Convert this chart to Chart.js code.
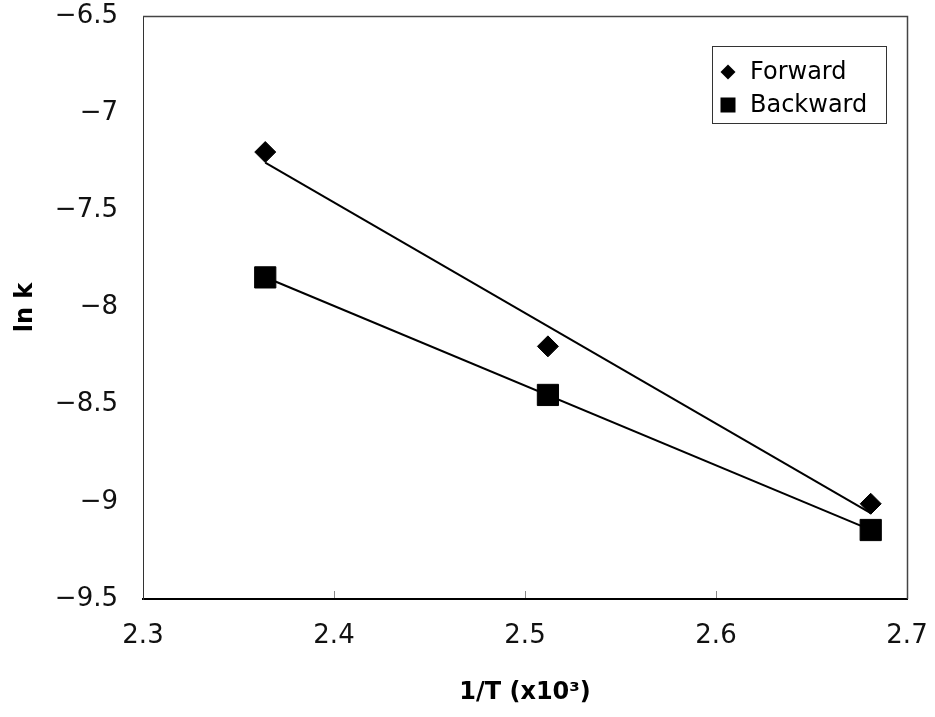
<!DOCTYPE html>
<html>
<head>
<meta charset="utf-8">
<script src="https://cdn.jsdelivr.net/npm/chart.js"></script>
<style>
  html, body { margin: 0; padding: 0; background: #fff; }
  #wrap { width: 935px; height: 717px; }
</style>
</head>
<body>
<div id="wrap"><canvas id="chart" width="935" height="717"></canvas></div>
<script>
// 1/T (x10^3) and ln k
const invT = [2.364, 2.512, 2.681];
const forwardLnK = [-7.20, -8.20, -9.01];
const backwardLnK = [-7.845, -8.45, -9.145];

const seriesNames = ['Forward', 'Backward'];
const xTicks = [2.3, 2.4, 2.5, 2.6, 2.7];
const yTicks = [-9.5, -9, -8.5, -8, -7.5, -7, -6.5];

const FONT = '"DejaVu Sans", sans-serif';

// least squares trend line, from the smallest to the largest x
function fitLine(xs, ys) {
    const n = xs.length;
    const mx = xs.reduce((a, b) => a + b, 0) / n;
    const my = ys.reduce((a, b) => a + b, 0) / n;
    let sxy = 0, sxx = 0;
    for (let i = 0; i < n; i++) {
        sxy += (xs[i] - mx) * (ys[i] - my);
        sxx += (xs[i] - mx) * (xs[i] - mx);
    }
    const m = sxy / sxx;
    const b = my - m * mx;
    const x0 = Math.min(...xs), x1 = Math.max(...xs);
    return [{x: x0, y: m * x0 + b}, {x: x1, y: m * x1 + b}];
}

const toPoints = (xs, ys) => xs.map((x, i) => ({x: x, y: ys[i]}));

// frame, inward ticks on x and the boxed legend inside the plot
const framePlugin = {
    id: 'frame',
    afterDraw(chart) {
        const {ctx, chartArea: a, scales: {x}} = chart;
        ctx.save();

        ctx.strokeStyle = '#888';
        ctx.lineWidth = 1;
        x.ticks.forEach(t => {
            const px = Math.round(x.getPixelForValue(t.value)) + 0.5;
            if (px < a.left + 2 || px > a.right - 2) return;
            ctx.beginPath();
            ctx.moveTo(px, a.bottom - 1);
            ctx.lineTo(px, a.bottom - 8);
            ctx.stroke();
        });

        ctx.strokeStyle = '#444';
        ctx.lineWidth = 1.5;
        ctx.beginPath();
        ctx.moveTo(a.left, a.top + 0.5);
        ctx.lineTo(a.right + 0.5, a.top + 0.5);
        ctx.lineTo(a.right + 0.5, a.bottom);
        ctx.stroke();

        // legend
        const w = 174, h = 77;
        const lx = a.right - 21 - w, ly = a.top + 30;
        ctx.fillStyle = '#fff';
        ctx.fillRect(lx, ly, w, h);
        ctx.strokeStyle = '#333';
        ctx.lineWidth = 1;
        ctx.strokeRect(lx + 0.5, ly + 0.5, w, h);

        ctx.fillStyle = '#000';
        ctx.font = '24px ' + FONT;
        ctx.textBaseline = 'middle';
        ctx.textAlign = 'left';
        const rows = [ly + 26, ly + 59];
        const mx = lx + 16;
        // diamond
        ctx.beginPath();
        ctx.moveTo(mx - 7.5, rows[0]);
        ctx.lineTo(mx, rows[0] - 7.5);
        ctx.lineTo(mx + 7.5, rows[0]);
        ctx.lineTo(mx, rows[0] + 7.5);
        ctx.closePath();
        ctx.fill();
        // square
        ctx.fillRect(mx - 7.5, rows[1] - 7.5, 15, 15);

        seriesNames.forEach((name, i) => ctx.fillText(name, lx + 38, rows[i] + 1));
        ctx.restore();
    }
};

const fmt = v => {
    const r = Math.round(v * 10) / 10;
    return (r < 0 ? '\u2212' : '') + String(Math.abs(r));
};

const config = {
    type: 'scatter',
    data: {
        datasets: [
            {
                label: seriesNames[0] + ' fit',
                data: fitLine(invT, forwardLnK),
                showLine: true,
                borderColor: '#000',
                borderWidth: 2,
                pointRadius: 0
            },
            {
                label: seriesNames[1] + ' fit',
                data: fitLine(invT, backwardLnK),
                showLine: true,
                borderColor: '#000',
                borderWidth: 2,
                pointRadius: 0
            },
            {
                label: seriesNames[0],
                data: toPoints(invT, forwardLnK),
                pointStyle: 'rectRot',
                pointRadius: 10.5,
                backgroundColor: '#000',
                borderColor: '#000',
                borderWidth: 1
            },
            {
                label: seriesNames[1],
                data: toPoints(invT, backwardLnK),
                pointStyle: 'rect',
                pointRadius: 15,
                backgroundColor: '#000',
                borderColor: '#000',
                borderWidth: 1
            }
        ]
    },
    plugins: [framePlugin],
    options: {
        responsive: false,
        animation: false,
        layout: {
            padding: {top: 16, right: 28, left: 0, bottom: 0}
        },
        plugins: {
            legend: {display: false},
            tooltip: {enabled: false}
        },
        scales: {
            x: {
                type: 'linear',
                min: 2.3,
                max: 2.7,
                afterBuildTicks: s => { s.ticks = xTicks.map(v => ({value: v})); },
                afterFit: s => {
                    s.height = 118;
                    s.paddingLeft = 0;
                    s.paddingRight = 0;
                },
                grid: {display: false, drawTicks: false},
                border: {display: true, color: '#000', width: 2},
                ticks: {
                    color: '#111',
                    padding: 22,
                    font: {family: FONT, size: 26},
                    callback: v => (Math.round(v * 10) / 10).toFixed(1)
                },
                title: {
                    display: true,
                    text: '1/T (x10³)',
                    color: '#000',
                    font: {family: FONT, size: 24, weight: 'bold'},
                    padding: {top: 0, bottom: 10}
                }
            },
            y: {
                type: 'linear',
                min: -9.5,
                max: -6.5,
                afterBuildTicks: s => { s.ticks = yTicks.map(v => ({value: v})); },
                afterFit: s => {
                    s.width = 143;
                    s.paddingTop = 0;
                    s.paddingBottom = 0;
                },
                grid: {display: false, drawTicks: false},
                border: {display: true, color: '#333', width: 1},
                ticks: {
                    color: '#111',
                    padding: 25,
                    font: {family: FONT, size: 26},
                    callback: fmt
                },
                title: {
                    display: true,
                    text: 'ln k',
                    color: '#000',
                    font: {family: FONT, size: 24, weight: 'bold'},
                    padding: {top: 11, bottom: 0}
                }
            }
        }
    }
};

new Chart(document.getElementById('chart').getContext('2d'), config);
</script>
</body>
</html>
